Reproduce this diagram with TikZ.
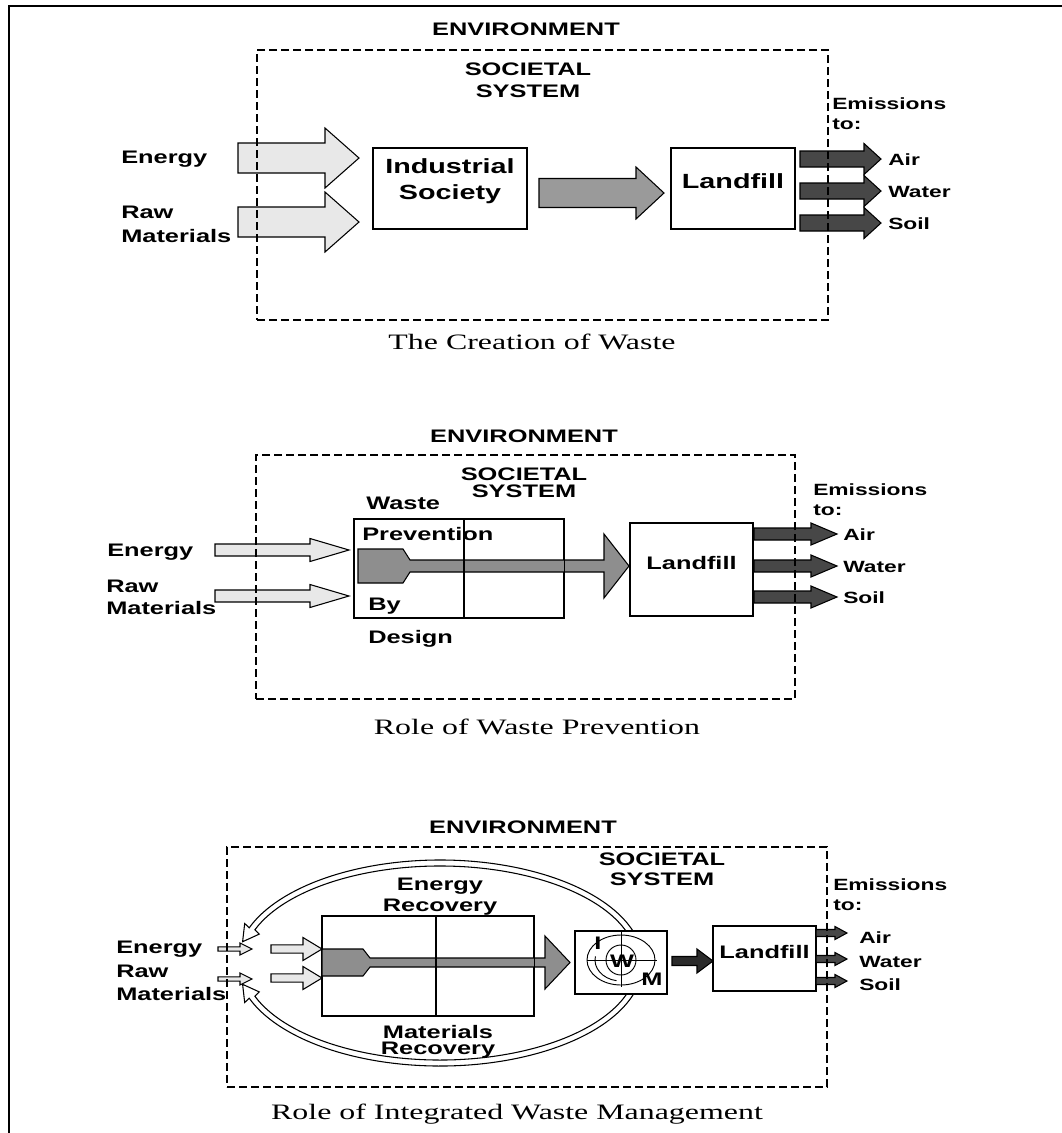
\documentclass[tikz,border=0pt]{standalone}
\usepackage{fontspec}
\usetikzlibrary{calc, fit, positioning}
\newfontfamily\lblfont{Liberation Sans}[FakeStretch=1.4]
\newfontfamily\capfont{Liberation Serif}[FakeStretch=1.45]
\definecolor{arrlight}{HTML}{E8E8E8}
\definecolor{arrmid}{HTML}{9A9A9A}
\definecolor{arrfunnel}{HTML}{8E8E8E}
\definecolor{arrdark}{HTML}{474747}
\definecolor{arrblack}{HTML}{2B2B2B}
\tikzset{
  lbl/.style={font=\lblfont\bfseries\fontsize{13.6}{#1}\selectfont, inner sep=0pt},
  lbl/.default=16,
  lblsmall/.style={font=\lblfont\bfseries\fontsize{12.2}{15}\selectfont, inner sep=0pt},
  lblbig/.style={font=\lblfont\bfseries\fontsize{15.4}{19.5}\selectfont, inner sep=0pt},
  caption/.style={font=\capfont\fontsize{16.5}{19}\selectfont, inner sep=0pt, anchor=base},
  frame/.style={line width=1.5pt},
  envbox/.style={draw, line width=0.9pt, dash pattern=on 6pt off 3pt, inner sep=0pt},
  box/.style={draw, line width=0.9pt, fill=white, inner sep=0pt},
  boxline/.style={line width=0.9pt},
  lightarr/.style={draw, line width=0.8pt, fill=arrlight},
  midarr/.style={draw, line width=0.8pt, fill=arrmid},
  funnelarr/.style={draw, line width=0.8pt, fill=arrfunnel},
  darkarr/.style={draw, line width=0.8pt, fill=arrdark},
  blackarr/.style={draw, line width=0.8pt, fill=arrblack},
  loopband/.style={draw, line width=0.8pt, fill=white},
  iwmline/.style={line width=0.7pt},
}
% block arrow: [style]{tail}{tip}{shaft half}{head half}{head length}
\newcommand{\blockarrow}[6][]{%
  \path[#1] ($(#2)+(0,-#4)$) -- ($(#3)+(-#6,-#4)$) -- ($(#3)+(-#6,-#5)$) -- (#3)
    -- ($(#3)+(-#6,#5)$) -- ($(#3)+(-#6,#4)$) -- ($(#2)+(0,#4)$) -- cycle;}

\begin{document}
\begin{tikzpicture}[x=0.75pt, y=-0.75pt]
\useasboundingbox (0,0) rectangle (1062,1133);
\draw[frame] (1062,6) -- (9,6) -- (9,1133);

% --- the creation of waste
\node[lbl, anchor=base] (envA) at (526,35) {ENVIRONMENT};
\node[lbl=16.5, align=center, anchor=north] (socA) at (528,63) {SOCIETAL\\SYSTEM};
\node[lbl, anchor=base west] (enA) at (121,163) {Energy};
\node[lbl=18, align=left, anchor=north west] (rmA) at (121,206) {Raw\\Materials};
\node[box, lblbig, align=center, fit={(373,148) (527,229)}] (indA) {Industrial\\Society};
\node[box, lblbig, fit={(671,148) (795,229)}] (lfA) {Landfill};
\coordinate (enA0) at (238,158); \coordinate (enA1) at (359,158);
\coordinate (rmA0) at (238,222); \coordinate (rmA1) at (359,222);
\coordinate (wsA0) at (539,193); \coordinate (wsA1) at (664,193);
\blockarrow[lightarr]{enA0}{enA1}{15}{30}{34}
\blockarrow[lightarr]{rmA0}{rmA1}{15}{30}{34}
\blockarrow[midarr]{wsA0}{wsA1}{14.5}{26}{28}
\coordinate (airA0) at (800,159); \coordinate (airA1) at (881,159);
\coordinate (watA0) at (800,191); \coordinate (watA1) at (881,191);
\coordinate (soiA0) at (800,223); \coordinate (soiA1) at (881,223);
\blockarrow[darkarr]{airA0}{airA1}{8}{15.5}{17}
\blockarrow[darkarr]{watA0}{watA1}{8}{15.5}{17}
\blockarrow[darkarr]{soiA0}{soiA1}{8}{15.5}{17}
\node[lblsmall, align=left, anchor=north west] (emA) at (832,97) {Emissions\\to:};
\node[lblsmall, anchor=base west] (airA) at (888,165) {Air};
\node[lblsmall, anchor=base west] (watA) at (888,197) {Water};
\node[lblsmall, anchor=base west] (soiA) at (888,229) {Soil};
\node[envbox, fit={(257,50) (828,320)}] (sysA) {};
\node[caption] (capA) at (532,349) {The Creation of Waste};

% --- role of waste prevention
\node[lbl, anchor=base] (envB) at (524,442) {ENVIRONMENT};
\node[lbl=12.75, align=center, anchor=north] (socB) at (524,468) {SOCIETAL\\SYSTEM};
\node[lbl, anchor=base west] (waB) at (366,509) {Waste};
\node[box, fit={(354,519) (564,618)}] (pdB) {};
\coordinate (fnB) at (358,566);
\draw[funnelarr] (fnB) ++(0,-17) -- ++(45,0) -- ++(7,11) -- ++(194,0) -- ++(0,-26) -- ++(25,32)
  -- ++(-25,32) -- ++(0,-26) -- ++(-194,0) -- ++(-7,11) -- ++(-45,0) -- cycle;
\node[lbl, anchor=base west] (prB) at (362,540) {Prevention};
\node[lbl, anchor=base west] (byB) at (368,610) {By};
\node[lbl, anchor=base west] (dsB) at (368,643) {Design};
\draw[boxline] (pdB.north west) rectangle (pdB.south east);
\coordinate (dvB) at (464,519);
\draw[boxline] (dvB) -- (dvB |- pdB.south);
\node[lbl, anchor=base west] (enB) at (107,556) {Energy};
\node[lbl=16.5, align=left, anchor=north west] (rmB) at (106,580) {Raw\\Materials};
\coordinate (enB0) at (215,550); \coordinate (enB1) at (349,550);
\coordinate (rmB0) at (215,596); \coordinate (rmB1) at (349,596);
\blockarrow[lightarr]{enB0}{enB1}{6}{11.5}{39}
\blockarrow[lightarr]{rmB0}{rmB1}{6}{11.5}{39}
\node[box, lbl, fit={(630,523) (753,616)}] (lfB) {Landfill};
\coordinate (airB0) at (754,534); \coordinate (airB1) at (837,534);
\coordinate (watB0) at (754,566); \coordinate (watB1) at (837,566);
\coordinate (soiB0) at (754,597); \coordinate (soiB1) at (837,597);
\blockarrow[darkarr]{airB0}{airB1}{6}{11}{26}
\blockarrow[darkarr]{watB0}{watB1}{6}{11}{26}
\blockarrow[darkarr]{soiB0}{soiB1}{6}{11}{26}
\node[lblsmall, align=left, anchor=north west] (emB) at (813,483) {Emissions\\to:};
\node[lblsmall, anchor=base west] (airB) at (843,540) {Air};
\node[lblsmall, anchor=base west] (watB) at (843,572) {Water};
\node[lblsmall, anchor=base west] (soiB) at (843,603) {Soil};
\node[envbox, fit={(256,455) (795,699)}] (sysB) {};
\node[caption] (capB) at (537,734) {Role of Waste Prevention};

% --- role of integrated waste management
\node[lbl, anchor=base] (envC) at (523,833) {ENVIRONMENT};
\node[lbl=14.3, align=center, anchor=north] (socC) at (662,853) {SOCIETAL\\SYSTEM};
\node[lbl=15.75, align=center, anchor=north] (erC) at (440,878) {Energy\\Recovery};
\node[lbl=12, align=center, anchor=north] (mrC) at (438,1025) {Materials\\Recovery};
\coordinate (lpC) at (440,963);
\draw[loopband] ($(lpC)+(-15:203 and 103)$) arc[start angle=-15, end angle=-160, x radius=203, y radius=103]
  -- (244.7,923.5) -- (242.6,941.7) -- (259.3,934.1)
  -- ($(lpC)+(-160:197 and 97)$) arc[start angle=-160, end angle=-15, x radius=197, y radius=97] -- cycle;
\draw[loopband] ($(lpC)+(15:203 and 103)$) arc[start angle=15, end angle=160, x radius=203, y radius=103]
  -- (244.7,1002.5) -- (242.6,984.3) -- (259.3,991.9)
  -- ($(lpC)+(160:197 and 97)$) arc[start angle=160, end angle=15, x radius=197, y radius=97] -- cycle;
\node[box, fit={(322,916) (534,1016)}] (rcC) {};
\coordinate (fnC) at (322,962.5);
\draw[funnelarr] (fnC) ++(0,-13.5) -- ++(41,0) -- ++(7,9) -- ++(175,0) -- ++(0,-22) -- ++(25,26.5)
  -- ++(-25,26.5) -- ++(0,-22) -- ++(-175,0) -- ++(-7,9) -- ++(-41,0) -- cycle;
\draw[boxline] (rcC.north west) rectangle (rcC.south east);
\coordinate (dvC) at (436,916);
\draw[boxline] (dvC) -- (dvC |- rcC.south);
\coordinate (enC2) at (271,949); \coordinate (enC3) at (322,949);
\coordinate (rmC2) at (271,978); \coordinate (rmC3) at (322,978);
\blockarrow[lightarr]{enC2}{enC3}{4.2}{11.5}{19}
\blockarrow[lightarr]{rmC2}{rmC3}{4.2}{11.5}{19}
\coordinate (enC0) at (218,949); \coordinate (enC1) at (252,949);
\coordinate (rmC0) at (218,979); \coordinate (rmC1) at (252,979);
\blockarrow[lightarr]{enC0}{enC1}{2.2}{6}{12}
\blockarrow[lightarr]{rmC0}{rmC1}{2.2}{6}{12}
\node[lbl, anchor=base west] (enC) at (116,953) {Energy};
\node[lbl=17.25, align=left, anchor=north west] (rmC) at (116,965) {Raw\\Materials};
\node[box, fit={(575,931) (667,994)}] (iwm) {};
\coordinate (iwmc) at (621,960);
\draw[iwmline] ($(iwmc)+(-34,0)$) -- ($(iwmc)+(36,0)$);
\draw[iwmline] ($(iwmc)+(0,-28)$) -- ($(iwmc)+(0,27)$);
\draw[iwmline] (iwmc) ellipse [x radius=34, y radius=25];
\draw[iwmline] (iwmc) circle [radius=15];
\draw[iwmline] ($(iwmc)+(100:26 and 21)$) arc[start angle=100, end angle=190, x radius=26, y radius=21];
\node[lbl] (iwmI) at (598,943) {I};
\node[lbl] (iwmW) at (622,961) {W};
\node[lbl] (iwmM) at (652,979) {M};
\coordinate (lfC0) at (672,961); \coordinate (lfC1) at (713,961);
\blockarrow[blackarr]{lfC0}{lfC1}{4.5}{12}{16}
\node[box, lbl, fit={(713,926) (816,991)}] (lfC) {Landfill};
\coordinate (airC0) at (816,933); \coordinate (airC1) at (847,933);
\coordinate (watC0) at (816,959); \coordinate (watC1) at (847,959);
\coordinate (soiC0) at (816,981); \coordinate (soiC1) at (847,981);
\blockarrow[darkarr]{airC0}{airC1}{3.5}{6.5}{12}
\blockarrow[darkarr]{watC0}{watC1}{3.5}{6.5}{12}
\blockarrow[darkarr]{soiC0}{soiC1}{3.5}{6.5}{12}
\node[lblsmall, align=left, anchor=north west] (emC) at (833,878) {Emissions\\to:};
\node[lblsmall, anchor=base west] (airC) at (859,943) {Air};
\node[lblsmall, anchor=base west] (watC) at (859,967) {Water};
\node[lblsmall, anchor=base west] (soiC) at (859,990) {Soil};
\node[envbox, fit={(227,847) (827,1087)}] (sysC) {};
\node[caption] (capC) at (517,1119) {Role of Integrated Waste Management};
\end{tikzpicture}
\end{document}
